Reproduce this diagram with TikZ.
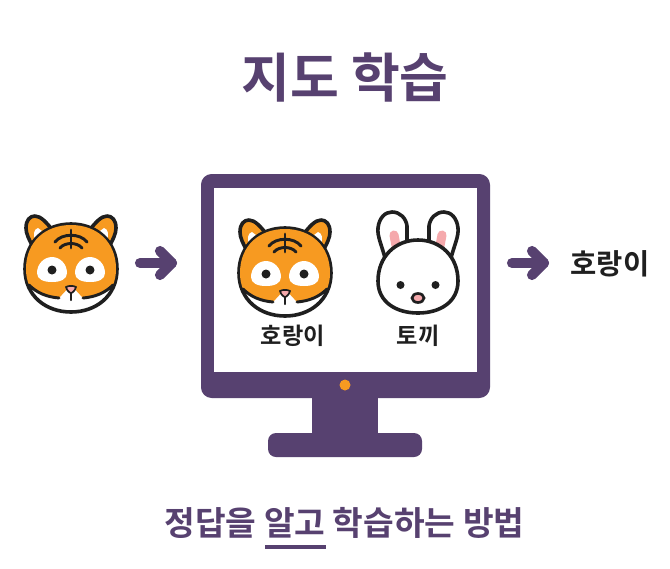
\documentclass[tikz,border=0pt]{standalone}
\usepackage{fontspec}
\setmainfont{Noto Sans CJK KR}[BoldFont={Noto Sans CJK KR Bold}]
\definecolor{purp}{HTML}{574170}
\definecolor{tigor}{HTML}{F79A21}
\definecolor{ink}{HTML}{1F1F1F}
\definecolor{pinkish}{HTML}{F5A9AC}
\tikzset{
  x=0.75pt,y=-0.75pt,
  outl/.style={draw=ink,line width=2.7pt,line join=round,line cap=round},
  bluntarrow/.style={draw=purp,line width=7.6pt,line cap=round,line join=round},
  ttl/.style={font=\bfseries\fontsize{39.8}{40}\selectfont,text=purp,inner sep=0pt},
  lbl/.style={font=\bfseries\fontsize{17.4}{18}\selectfont,text=ink,inner sep=0pt},
  lblbig/.style={font=\bfseries\fontsize{21.4}{22}\selectfont,text=ink,inner sep=0pt},
  sub/.style={font=\bfseries\fontsize{25}{26}\selectfont,text=purp,inner sep=0pt},
  tiger/.pic={
    % ears
    \path[outl,fill=tigor] (-38,-18) .. controls (-42,-26) and (-45,-31) .. (-45,-37) .. controls (-45,-45) and (-41,-49) .. (-36,-49) .. controls (-30,-49) and (-24,-42) .. (-17,-33) -- cycle;
    \path[outl,fill=tigor] (38,-18) .. controls (42,-26) and (45,-31) .. (45,-37) .. controls (45,-45) and (41,-49) .. (36,-49) .. controls (30,-49) and (24,-42) .. (17,-33) -- cycle;
    \fill[white] (-36,-24) .. controls (-38,-31) and (-37,-36) .. (-33,-37) -- (-25,-31) -- cycle;
    \fill[white] (36,-24) .. controls (38,-31) and (37,-36) .. (33,-37) -- (25,-31) -- cycle;
    % head
    \path[outl,fill=white] (-46,4) .. controls (-46,-24) and (-25,-41) .. (0,-41) .. controls (25,-41) and (46,-24) .. (46,4) .. controls (46,31) and (25,47) .. (0,47) .. controls (-25,47) and (-46,31) .. (-46,4) -- cycle;
    \fill[tigor] (-45,4) .. controls (-45,-24) and (-25,-40) .. (0,-40) .. controls (25,-40) and (45,-24) .. (45,4) .. controls (45,10) and (44,15) .. (42,20) .. controls (34,28) and (24,32) .. (12,33) -- (0,20) -- (-12,33) .. controls (-24,32) and (-34,28) .. (-42,20) .. controls (-44,15) and (-45,10) .. (-45,4) -- cycle;
    % lower jaw line
    \draw[outl,line width=2.2pt] (-42,20) .. controls (-34,28) and (-24,32) .. (-12,33);
    \draw[outl,line width=2.2pt] (42,20) .. controls (34,28) and (24,32) .. (12,33);
    % eyes
    \fill[white] (-34,8) .. controls (-34,-1) and (-27,-8) .. (-19,-8) .. controls (-11,-8) and (-4,-1) .. (-4,8) .. controls (-4,14) and (-10,17) .. (-19,17) .. controls (-28,17) and (-34,14) .. (-34,8) -- cycle;
    \fill[white] (34,8) .. controls (34,-1) and (27,-8) .. (19,-8) .. controls (11,-8) and (4,-1) .. (4,8) .. controls (4,14) and (10,17) .. (19,17) .. controls (28,17) and (34,14) .. (34,8) -- cycle;
    \fill[ink] (-19,5) circle [radius=4.5];
    \fill[ink] (19,5) circle [radius=4.5];
    % stripes
    \draw[outl,line width=2.2pt] (0,-35) -- (0,-17);
    \draw[outl,line width=2.2pt] (-16,-23) .. controls (-9,-32) and (9,-32) .. (16,-23);
    \draw[outl,line width=2.2pt] (-11,-17) .. controls (-6,-23) and (6,-23) .. (11,-17);
    % nose and mouth
    \path[draw=ink,line width=1.3pt,fill=pinkish,line join=round] (-5,22) .. controls (-2,20.5) and (2,20.5) .. (5,22) .. controls (4,26) and (1,28) .. (0,28) .. controls (-1,28) and (-4,26) .. (-5,22) -- cycle;
    \draw[outl,line width=1.8pt] (0,28) -- (0,35);
  },
  rabbit/.pic={
    \path[outl,fill=white] (-33,-8) .. controls (-36,-20) and (-41,-30) .. (-40,-38) .. controls (-39,-48) and (-33,-54) .. (-26,-54) .. controls (-18,-54) and (-12,-48) .. (-11,-40) -- (-11,-24) -- cycle;
    \path[outl,fill=white] (33,-8) .. controls (36,-20) and (41,-30) .. (40,-38) .. controls (39,-48) and (33,-54) .. (26,-54) .. controls (18,-54) and (12,-48) .. (11,-40) -- (11,-24) -- cycle;
    \draw[pinkish,line width=6.8pt,line cap=round] (-24,-31) -- (-21,-15);
    \draw[pinkish,line width=6.8pt,line cap=round] (24,-31) -- (21,-15);
    \path[outl,fill=white] (-40,15) .. controls (-40,-10) and (-22,-26) .. (0,-26) .. controls (22,-26) and (40,-10) .. (40,15) .. controls (40,36) and (22,47) .. (0,47) .. controls (-22,47) and (-40,36) .. (-40,15) -- cycle;
    \fill[ink] (-17.5,19) circle [radius=4];
    \fill[ink] (17.5,19) circle [radius=4];
    \path[draw=ink,line width=2pt,fill=pinkish] (0,32) ellipse [x radius=6,y radius=4.5];
  }
}
\begin{document}
\begin{tikzpicture}
\useasboundingbox (0,0) rectangle (670,568);
\fill[white] (0,0) rectangle (670,568);
\node[ttl] (title) at (345,77.5) {지도 학습};
% monitor
\fill[purp] (312,395) rectangle (378,437);
\fill[purp,rounded corners=6pt] (268,433) rectangle (422,457);
\fill[purp,rounded corners=8pt] (201,174) rectangle (490,398);
\fill[white] (214,188) rectangle (477,372);
\fill[tigor] (345,385) circle [radius=5.5];
% animals
\pic at (71,265) {tiger};
\pic at (285,269) {tiger};
\pic at (418,266) {rabbit};
% arrows
\coordinate (a1s) at (140,263);
\coordinate (a1e) at (172,263);
\coordinate (a1u) at (160,251);
\coordinate (a1d) at (160,275);
\draw[bluntarrow] (a1s) -- (a1e);
\draw[bluntarrow] (a1u) -- (a1e) -- (a1d);
\coordinate (a2s) at (512,263);
\coordinate (a2e) at (544,263);
\coordinate (a2u) at (532,251);
\coordinate (a2d) at (532,275);
\draw[bluntarrow] (a2s) -- (a2e);
\draw[bluntarrow] (a2u) -- (a2e) -- (a2d);
% labels
\node[lblbig] (ans) at (610,264) {호랑이};
\node[lbl] (lt) at (293,336) {호랑이};
\node[lbl] (lr) at (418,336) {토끼};
\node[sub] (bottom) at (344.5,523) {정답을 알고 학습하는 방법};
\coordinate (ul) at (265,547);
\coordinate (ur) at (326,547);
\draw[purp,line width=3pt] (ul) -- (ur);
\end{tikzpicture}
\end{document}
